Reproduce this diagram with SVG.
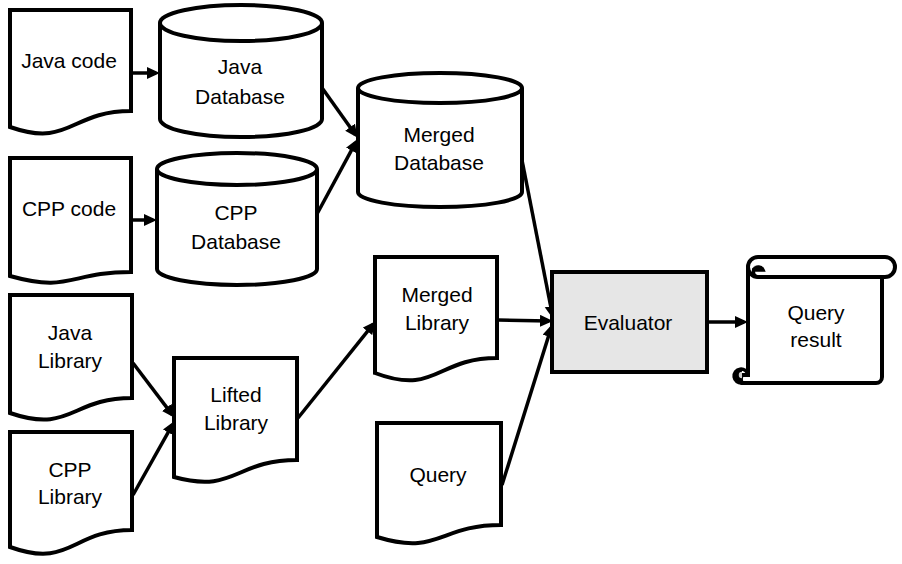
<svg xmlns="http://www.w3.org/2000/svg" width="902" height="564" viewBox="0 0 902 564">
<style>
.s{fill:#fff;stroke:#000;stroke-width:4;stroke-linejoin:miter}
.t{font-family:"Liberation Sans",Arial,sans-serif;font-size:21px;fill:#000;text-anchor:middle}
.c{stroke:#000;stroke-width:3.5;fill:none}
</style>
<defs>
<marker id="ah" markerUnits="userSpaceOnUse" markerWidth="14" markerHeight="13" refX="9" refY="6" orient="auto">
<path d="M0,0 L13,6 L0,12 z" fill="#000"/>
</marker>
</defs>
<rect width="902" height="564" fill="#fff"/>
<g id="connectors" class="c" marker-end="url(#ah)">
<line x1="132" y1="73" x2="156" y2="73"/>
<line x1="132" y1="220" x2="153" y2="220"/>
<line x1="320" y1="85" x2="355.3" y2="134.5"/>
<line x1="317" y1="214" x2="355.6" y2="142.6"/>
<line x1="521" y1="155" x2="552.4" y2="315"/>
<line x1="498" y1="320" x2="549" y2="321"/>
<line x1="502" y1="485" x2="551.1" y2="327.9"/>
<line x1="133" y1="363" x2="172.2" y2="414.6"/>
<line x1="133" y1="495" x2="172.5" y2="424.6"/>
<line x1="298" y1="418" x2="373.1" y2="324.3"/>
<line x1="707" y1="322" x2="744" y2="322"/>
</g>
<g id="java-code">
<path class="s" d="M10,10 H131 V111 C70,111 70,148 10,127 Z"/>
<text class="t" x="69" y="68">Java code</text>
</g>
<g id="java-db">
<path class="s" d="M160,23 V119 A81,18 0 0 0 322,119 V23 A81,18 0 0 0 160,23 Z"/>
<path class="s" fill="none" d="M160,23 A81,18 0 0 0 322,23"/>
<text class="t" x="240" y="74">Java</text>
<text class="t" x="240" y="104">Database</text>
</g>
<g id="cpp-code">
<path class="s" d="M10,158 H131 V272 C70,272 70,293 10,276 Z"/>
<text class="t" x="69" y="216">CPP code</text>
</g>
<g id="cpp-db">
<path class="s" d="M157,169 V269 A80,16 0 0 0 317,269 V169 A80,16 0 0 0 157,169 Z"/>
<path class="s" fill="none" d="M157,169 A80,16 0 0 0 317,169"/>
<text class="t" x="236" y="220">CPP</text>
<text class="t" x="236" y="249">Database</text>
</g>
<g id="merged-db">
<path class="s" d="M358,88 V192 A82,15 0 0 0 522,192 V88 A82,15 0 0 0 358,88 Z"/>
<path class="s" fill="none" d="M358,88 A82,15 0 0 0 522,88"/>
<text class="t" x="439" y="142">Merged</text>
<text class="t" x="439" y="170">Database</text>
</g>
<g id="java-library">
<path class="s" d="M10,295 H132 V398 C71,398 71,434 10,413 Z"/>
<text class="t" x="70" y="340">Java</text>
<text class="t" x="70" y="368">Library</text>
</g>
<g id="cpp-library">
<path class="s" d="M10,432 H132 V530 C71,530 71,569 10,547 Z"/>
<text class="t" x="70" y="477">CPP</text>
<text class="t" x="70" y="504">Library</text>
</g>
<g id="lifted-library">
<path class="s" d="M174,358 H297 V460 C235,460 235,494 174,477 Z"/>
<text class="t" x="236" y="402">Lifted</text>
<text class="t" x="236" y="430">Library</text>
</g>
<g id="merged-library">
<path class="s" d="M375,257 H497 V358 C436,358 436,396 375,373 Z"/>
<text class="t" x="437" y="302">Merged</text>
<text class="t" x="437" y="330">Library</text>
</g>
<g id="query">
<path class="s" d="M377,423 H501 V525 C439,525 439,556 377,537 Z"/>
<text class="t" x="438" y="482">Query</text>
</g>
<g id="evaluator">
<rect class="s" x="552" y="272" width="155" height="100" style="fill:#e6e6e6"/>
<text class="t" x="628" y="330">Evaluator</text>
</g>
<g id="query-result">
<path class="s" d="M748,267 V375 H742 A8,8 0 0 0 742,383 H876 A6,6 0 0 0 882,377 V277"/>
<path class="s" d="M758,257 H885 A10,10 0 0 1 885,277 H758 A10,10 0 0 1 758,257 Z"/>
<path fill="#ccc" d="M752,270 A5,5 0 0 1 762,270 Z"/>
<path fill="none" stroke="#000" stroke-width="3.5" d="M758,277 A5,5 0 1 1 763,270 H752"/>
<path fill="#ccc" d="M742,371 A4,4 0 0 0 742,379 Z"/>
<path fill="none" stroke="#000" stroke-width="3.5" d="M748,375 A7,7 0 1 0 742,383 M742,370 A5,5 0 0 0 742,380"/>
<text class="t" x="816" y="320">Query</text>
<text class="t" x="816" y="347">result</text>
</g>
</svg>
